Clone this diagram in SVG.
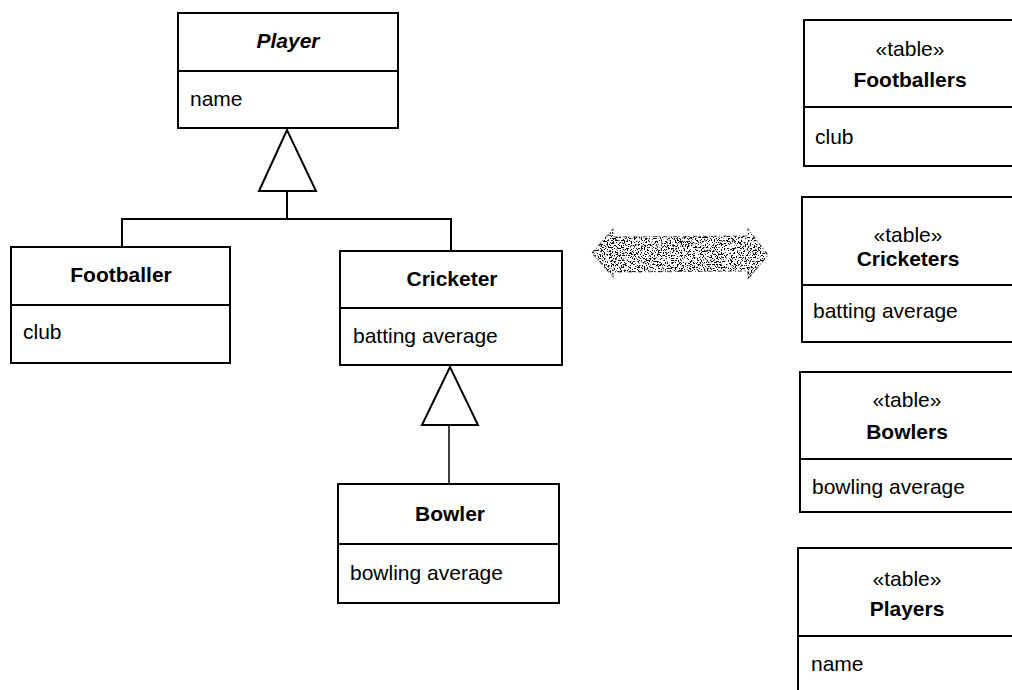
<svg xmlns="http://www.w3.org/2000/svg" width="1012" height="690" viewBox="0 0 1012 690">
  <style>
    .box { fill: #fff; stroke: #000; stroke-width: 2; }
    .line { fill: none; stroke: #000; stroke-width: 2; }
    .tri { fill: #fff; stroke: #000; stroke-width: 2; stroke-linejoin: miter; }
    .t { font-family: "Liberation Sans", Arial, sans-serif; font-size: 21px; fill: #000; }
    .title { font-weight: bold; text-anchor: middle; }
    .abstract { font-style: italic; }
    .stereo { text-anchor: middle; }
  </style>
  <defs>
    <!-- stippled halftone texture for the mapping arrow -->
    <filter id="grain" x="0" y="0" width="1" height="1">
      <feTurbulence type="fractalNoise" baseFrequency="0.7" numOctaves="2" seed="7" result="n"/>
      <feColorMatrix in="n" type="matrix" values="0 0 0 0 0  0 0 0 0 0  0 0 0 0 0  16 0 0 0 -8.6" result="dots"/>
      <feComposite in="dots" in2="SourceAlpha" operator="in"/>
    </filter>
  </defs>

  <!-- generalization connectors -->
  <g id="connectors">
    <polyline class="line" points="122,247 122,219 451,219 451,251"/>
    <line class="line" x1="287" y1="191" x2="287" y2="219"/>
    <polygon class="tri" points="287,130 259,191 316,191"/>
    <line class="line" x1="449" y1="425" x2="449" y2="484" style="stroke-width:1.5"/>
    <polygon class="tri" points="450,367 422,425 478,425"/>
  </g>

  <!-- class Player (abstract) -->
  <g id="player">
    <rect class="box" x="178" y="13" width="220" height="115"/>
    <line class="line" x1="178" y1="71" x2="398" y2="71"/>
    <text class="t title abstract" x="288" y="48">Player</text>
    <text class="t" x="190" y="106">name</text>
  </g>

  <!-- class Footballer -->
  <g id="footballer">
    <rect class="box" x="11" y="247" width="219" height="116"/>
    <line class="line" x1="11" y1="305" x2="230" y2="305"/>
    <text class="t title" x="121" y="282">Footballer</text>
    <text class="t" x="23" y="339">club</text>
  </g>

  <!-- class Cricketer -->
  <g id="cricketer">
    <rect class="box" x="340" y="251" width="222" height="114"/>
    <line class="line" x1="340" y1="308" x2="562" y2="308"/>
    <text class="t title" x="452" y="286">Cricketer</text>
    <text class="t" x="353" y="343">batting average</text>
  </g>

  <!-- class Bowler -->
  <g id="bowler">
    <rect class="box" x="338" y="484" width="221" height="119"/>
    <line class="line" x1="338" y1="544" x2="559" y2="544"/>
    <text class="t title" x="450" y="521">Bowler</text>
    <text class="t" x="350" y="580">bowling average</text>
  </g>

  <!-- two-way mapping arrow -->
  <g id="mapping">
    <polygon points="592,253 613,229 613,237 748,236 748,229 768,255 748,279 748,271 613,272 613,277"
             fill="#000" filter="url(#grain)"/>
    <polygon points="592,253 613,229 613,237 748,236 748,229 768,255 748,279 748,271 613,272 613,277"
             fill="none" stroke="#000" stroke-width="1.2" stroke-dasharray="4 2 1 3" opacity="0.6"/>
  </g>

  <!-- table Footballers -->
  <g id="tbl-footballers">
    <rect class="box" x="804" y="20" width="220" height="146"/>
    <line class="line" x1="804" y1="107" x2="1024" y2="107"/>
    <text class="t stereo" x="910" y="56">«table»</text>
    <text class="t title" x="910" y="87">Footballers</text>
    <text class="t" x="815" y="144">club</text>
  </g>

  <!-- table Cricketers -->
  <g id="tbl-cricketers">
    <rect class="box" x="802" y="197" width="222" height="145"/>
    <line class="line" x1="802" y1="285" x2="1024" y2="285"/>
    <text class="t stereo" x="908" y="242">«table»</text>
    <text class="t title" x="908" y="266">Cricketers</text>
    <text class="t" x="813" y="318">batting average</text>
  </g>

  <!-- table Bowlers -->
  <g id="tbl-bowlers">
    <rect class="box" x="800" y="372" width="224" height="140"/>
    <line class="line" x1="800" y1="459" x2="1024" y2="459"/>
    <text class="t stereo" x="907" y="407">«table»</text>
    <text class="t title" x="907" y="439">Bowlers</text>
    <text class="t" x="812" y="494">bowling average</text>
  </g>

  <!-- table Players -->
  <g id="tbl-players">
    <rect class="box" x="798" y="548" width="226" height="160"/>
    <line class="line" x1="798" y1="636" x2="1024" y2="636"/>
    <text class="t stereo" x="907" y="586">«table»</text>
    <text class="t title" x="907" y="616">Players</text>
    <text class="t" x="811" y="671">name</text>
  </g>
</svg>
